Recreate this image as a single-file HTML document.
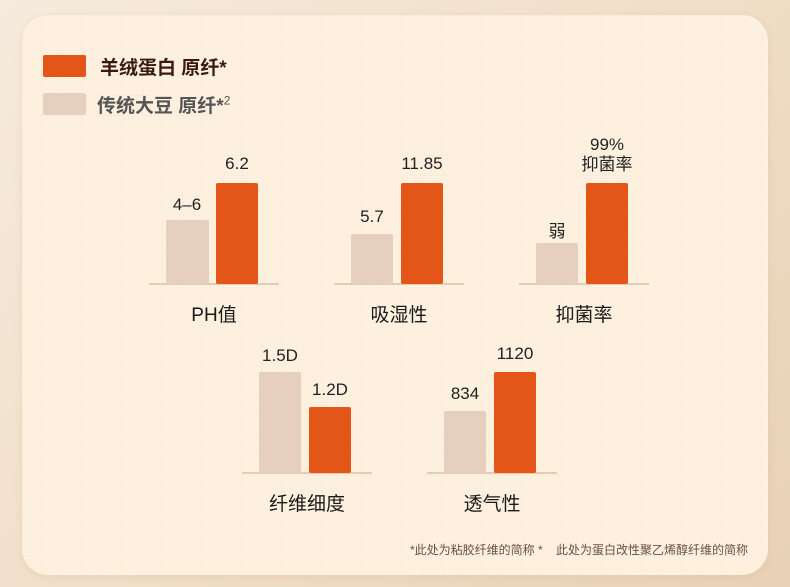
<!DOCTYPE html>
<html><head><meta charset="utf-8"><style>
*{margin:0;padding:0;box-sizing:border-box}
body{width:790px;height:587px;overflow:hidden;background:linear-gradient(135deg,#f6ebdd 0%,#efdcc4 60%,#e8d1b4 100%);font-family:"Liberation Sans","Noto Sans CJK SC",sans-serif;position:relative}
.card{position:absolute;left:22px;top:15px;width:746px;height:560px;border-radius:26px;background-color:#fdf0df;background-image:linear-gradient(rgba(220,190,160,.08) 1px,transparent 1px),linear-gradient(90deg,rgba(220,190,160,.08) 1px,transparent 1px);background-size:20px 20px;box-shadow:0 2px 8px rgba(180,140,100,.15)}
.a{position:absolute}
.o{background:#e45518;border-radius:2px}
.g{background:#e6cfbf;border-radius:2px}
.base{height:2px;background:#e3ccb2}
.v{font-size:17px;color:#222;text-align:center;width:80px}
.lab{font-size:19px;color:#1a1a1a;text-align:center;width:130px}
</style></head><body>
<div class="card"></div>
<div class="a o" style="left:43px;top:55px;width:43px;height:22px"></div>
<div class="a" style="left:100px;top:53px;font-size:19px;font-weight:bold;color:#3a1a10">羊绒蛋白 原纤*</div>
<div class="a g" style="left:43px;top:93px;width:43px;height:22px"></div>
<div class="a" style="left:97px;top:91px;font-size:19px;font-weight:bold;color:#555">传统大豆 原纤*<sup style="font-size:12px;font-weight:normal">2</sup></div>

<div class="a base" style="left:149px;top:283px;width:130px"></div>
<div class="a g" style="left:166px;top:220px;width:43px;height:64px"></div>
<div class="a o" style="left:216px;top:183px;width:42px;height:101px"></div>
<div class="a v" style="left:147px;top:195px">4–6</div>
<div class="a v" style="left:197px;top:154px">6.2</div>
<div class="a lab" style="left:149px;top:300px">PH值</div>

<div class="a base" style="left:334px;top:283px;width:130px"></div>
<div class="a g" style="left:351px;top:234px;width:42px;height:50px"></div>
<div class="a o" style="left:401px;top:183px;width:42px;height:101px"></div>
<div class="a v" style="left:332px;top:207px">5.7</div>
<div class="a v" style="left:382px;top:154px">11.85</div>
<div class="a lab" style="left:334px;top:300px">吸湿性</div>

<div class="a base" style="left:519px;top:283px;width:130px"></div>
<div class="a g" style="left:536px;top:243px;width:42px;height:41px"></div>
<div class="a o" style="left:586px;top:183px;width:42px;height:101px"></div>
<div class="a v" style="left:517px;top:217px">弱</div>
<div class="a v" style="left:567px;top:135px;line-height:20px">99%<br>抑菌率</div>
<div class="a lab" style="left:519px;top:300px">抑菌率</div>

<div class="a base" style="left:242px;top:472px;width:130px"></div>
<div class="a g" style="left:259px;top:372px;width:42px;height:101px"></div>
<div class="a o" style="left:309px;top:407px;width:42px;height:66px"></div>
<div class="a v" style="left:240px;top:346px">1.5D</div>
<div class="a v" style="left:290px;top:380px">1.2D</div>
<div class="a lab" style="left:242px;top:489px">纤维细度</div>

<div class="a base" style="left:427px;top:472px;width:130px"></div>
<div class="a g" style="left:444px;top:411px;width:42px;height:62px"></div>
<div class="a o" style="left:494px;top:372px;width:42px;height:101px"></div>
<div class="a v" style="left:425px;top:384px">834</div>
<div class="a v" style="left:475px;top:344px">1120</div>
<div class="a lab" style="left:427px;top:489px">透气性</div>

<div class="a" style="right:42px;top:541px;font-size:12px;color:#6a5040;white-space:nowrap">*此处为粘胶纤维的简称 *&nbsp;&nbsp;&nbsp;&nbsp;此处为蛋白改性聚乙烯醇纤维的简称</div>
</body></html>
